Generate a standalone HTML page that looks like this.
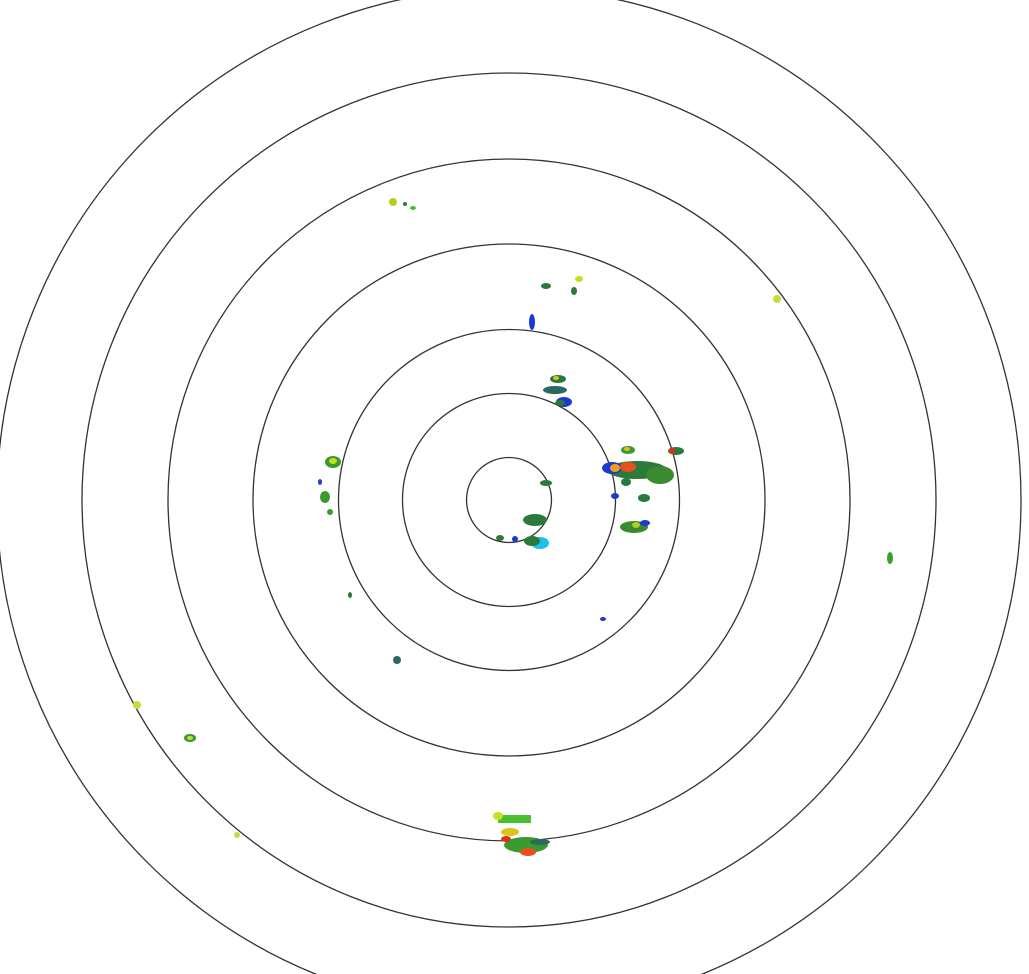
<!DOCTYPE html>
<html><head><style>html,body{margin:0;padding:0;background:#fff;}svg{display:block}</style></head><body>
<svg width="1029" height="974" viewBox="0 0 1029 974" xmlns="http://www.w3.org/2000/svg">
<g fill="none" stroke="#333" stroke-width="1.3">
<circle cx="509" cy="500" r="42.5"/>
<circle cx="509" cy="500" r="106.5"/>
<circle cx="509" cy="500" r="170.5"/>
<circle cx="509" cy="500" r="256"/>
<circle cx="509" cy="500" r="341"/>
<circle cx="509" cy="500" r="427"/>
<circle cx="509" cy="500" r="512"/>
</g>
<g>
<!-- east cluster -->
<ellipse cx="637" cy="470" rx="30" ry="9" fill="#2a7a3a"/>
<ellipse cx="660" cy="475" rx="14" ry="9" fill="#3a8a30"/>
<ellipse cx="612" cy="468" rx="10" ry="6" fill="#1a3ad0"/>
<ellipse cx="628" cy="467" rx="8" ry="5" fill="#e85020"/>
<ellipse cx="615" cy="468" rx="5" ry="4" fill="#f0a020"/>
<ellipse cx="676" cy="451" rx="8" ry="4" fill="#2a7a3a"/>
<ellipse cx="672" cy="451" rx="3" ry="3" fill="#e03010"/>
<ellipse cx="628" cy="450" rx="7" ry="4" fill="#3a9a30"/>
<ellipse cx="627" cy="449" rx="3" ry="2" fill="#e0c020"/>
<ellipse cx="634" cy="527" rx="14" ry="6" fill="#3a8a30"/>
<ellipse cx="645" cy="523" rx="5" ry="3" fill="#1a3ad0"/>
<ellipse cx="636" cy="525" rx="4" ry="3" fill="#b0d020"/>
<ellipse cx="644" cy="498" rx="6" ry="4" fill="#2a7a3a"/>
<ellipse cx="615" cy="496" rx="4" ry="3" fill="#1a3ad0"/>
<ellipse cx="626" cy="482" rx="5" ry="4" fill="#2a7a3a"/>
<!-- north-ish -->
<ellipse cx="558" cy="379" rx="8" ry="4" fill="#2a7a3a"/>
<ellipse cx="556" cy="378" rx="3" ry="2" fill="#e0c020"/>
<ellipse cx="555" cy="390" rx="12" ry="4" fill="#2a6a60"/>
<ellipse cx="564" cy="402" rx="8" ry="5" fill="#1a3ad0"/>
<ellipse cx="560" cy="403" rx="5" ry="3" fill="#2a7a3a"/>
<ellipse cx="532" cy="322" rx="3" ry="8" fill="#1a3ad0"/>
<ellipse cx="546" cy="286" rx="5" ry="3" fill="#2a7a3a"/>
<ellipse cx="579" cy="279" rx="4" ry="3" fill="#c0e020"/>
<ellipse cx="574" cy="291" rx="3" ry="4" fill="#2a7a3a"/>
<ellipse cx="393" cy="202" rx="4" ry="4" fill="#b0d020"/>
<ellipse cx="413" cy="208" rx="3" ry="2" fill="#4ac030"/>
<ellipse cx="405" cy="204" rx="2" ry="2" fill="#2a7a3a"/>
<ellipse cx="777" cy="299" rx="4" ry="4" fill="#c0e040"/>
<!-- center -->
<ellipse cx="535" cy="520" rx="12" ry="6" fill="#2a7a3a"/>
<ellipse cx="540" cy="543" rx="9" ry="6" fill="#1ac0f0"/>
<ellipse cx="532" cy="541" rx="8" ry="5" fill="#2a7a3a"/>
<ellipse cx="546" cy="483" rx="6" ry="3" fill="#2a7a3a"/>
<ellipse cx="500" cy="538" rx="4" ry="3" fill="#2a7a3a"/>
<ellipse cx="515" cy="539" rx="3" ry="3" fill="#1a3ad0"/>
<!-- west -->
<ellipse cx="333" cy="462" rx="8" ry="6" fill="#3a9a30"/>
<ellipse cx="333" cy="461" rx="4" ry="3" fill="#c0e020"/>
<ellipse cx="325" cy="497" rx="5" ry="6" fill="#3a9a30"/>
<ellipse cx="330" cy="512" rx="3" ry="3" fill="#3a9a30"/>
<ellipse cx="320" cy="482" rx="2" ry="3" fill="#1a3ad0"/>
<ellipse cx="350" cy="595" rx="2" ry="3" fill="#2a7a3a"/>
<ellipse cx="397" cy="660" rx="4" ry="4" fill="#2a6a60"/>
<ellipse cx="603" cy="619" rx="3" ry="2" fill="#1a3ad0"/>
<ellipse cx="890" cy="558" rx="3" ry="6" fill="#3aa030"/>
<ellipse cx="137" cy="705" rx="4" ry="4" fill="#c0e040"/>
<ellipse cx="190" cy="738" rx="6" ry="4" fill="#3a9a30"/>
<ellipse cx="190" cy="738" rx="3" ry="2" fill="#c0e040"/>
<ellipse cx="237" cy="835" rx="3" ry="3" fill="#c0e040"/>
<!-- south cluster -->
<rect x="498" y="815" width="33" height="8" fill="#4ac030"/>
<ellipse cx="498" cy="816" rx="5" ry="4" fill="#c0e020"/>
<ellipse cx="510" cy="832" rx="9" ry="4" fill="#e0c020"/>
<ellipse cx="526" cy="845" rx="22" ry="8" fill="#3a9a30"/>
<ellipse cx="528" cy="852" rx="8" ry="4" fill="#e85020"/>
<ellipse cx="506" cy="839" rx="5" ry="3" fill="#e03010"/>
<ellipse cx="540" cy="842" rx="10" ry="3" fill="#2a6a60"/>
</g>
</svg>
</body></html>
